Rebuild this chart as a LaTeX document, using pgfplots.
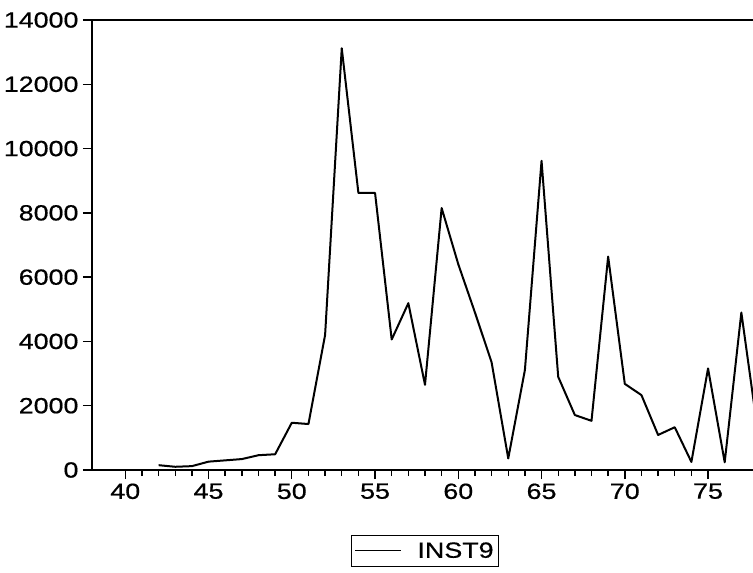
\documentclass[border=0pt]{standalone}
\usepackage{pgfplots}
\pgfplotsset{compat=1.18}
\usepackage{fontspec}
\setmainfont{Liberation Sans}
\newfontfamily\tickfont[FakeStretch=1.22, FakeBold=0.6]{Liberation Sans}
\begin{document}
\begin{tikzpicture}
\begin{axis}[
  name=ax,
  scale only axis,
  width=661pt, height=450pt,
  xmin=38, xmax=77.7,
  ymin=0, ymax=14000,
  axis x line*=box, axis y line*=left,
  xtick={40,45,...,75},
  minor x tick num=4,
  xtick pos=bottom,
  ytick={0,2000,...,14000},
  tick align=outside,
  major tick length=9pt,
  minor tick length=6pt,
  every tick/.style={black, line width=1.4pt},
  axis line style={line width=2pt},
  /pgf/number format/assume math mode=true,
  /pgf/number format/1000 sep={},
  scaled y ticks=false,
  tick label style={font=\tickfont\fontsize{22}{26}\selectfont},
  yticklabel style={xshift=-1pt},
  xticklabel style={yshift=-1pt},
  legend style={at={(axis description cs:0.504,-0.144)}, anchor=north,
    draw=black, line width=1.2pt, inner xsep=3pt, inner ysep=5pt,
    font=\tickfont\fontsize{22}{26}\selectfont},
  legend cell align=left,
  legend image code/.code={\draw[#1, line width=0.8pt] (0pt,0pt) -- (46pt,0pt);},
  legend style={/tikz/every odd column/.append style={column sep=14pt}},
]
\addplot[black, line width=2pt, line join=round] coordinates {
(42,150) (43,100) (44,120) (45,260) (46,300) (47,340) (48,460) (49,490)
(50,1470) (51,1430) (52,4200) (53,13120) (54,8620) (55,8620) (56,4060)
(57,5190) (58,2650) (59,8150) (60,6400) (61,4900) (62,3350) (63,360)
(64,3110) (65,9620) (66,2900) (67,1710) (68,1530) (69,6640) (70,2680)
(71,2330) (72,1090) (73,1330) (74,250) (75,3160) (76,240) (77,4900) (78,1150)
};
\addlegendentry{INST9}
\end{axis}
\pgfresetboundingbox
\path[use as bounding box] ([xshift=-92pt,yshift=-103pt]ax.south west) rectangle ([yshift=20pt]ax.north east);
\end{tikzpicture}
\end{document}
